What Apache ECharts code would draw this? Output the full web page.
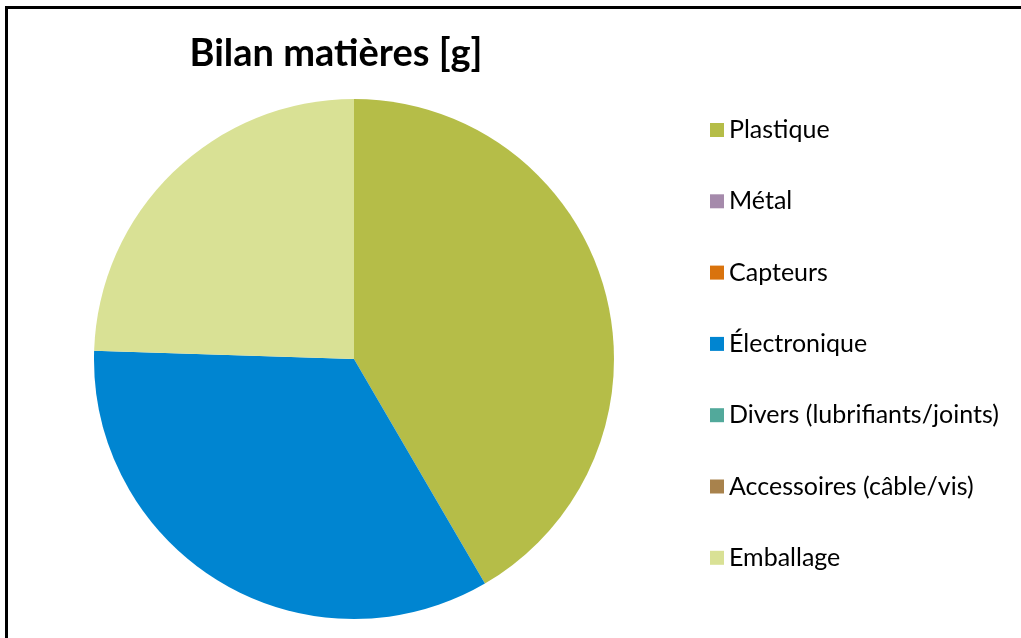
<!DOCTYPE html>
<html>
<head>
<meta charset="utf-8">
<script src="https://cdn.jsdelivr.net/npm/echarts@6/dist/echarts.min.js"></script>
<style>
html,body{margin:0;padding:0;background:#fff;}
#frame{position:absolute;left:5px;top:6px;width:1016px;height:632px;border-top:3px solid #000;border-left:3px solid #000;box-sizing:border-box;}
#chart{position:absolute;left:0;top:0;width:1021px;height:638px;}
</style>
</head>
<body>
<div id="frame"></div>
<div id="chart"></div>
<script>
const categories = ['Plastique','Métal','Capteurs','Électronique','Divers (lubrifiants/joints)','Accessoires (câble/vis)','Emballage'];
const values = [416, 0, 0, 339, 0, 0, 245];
const colors = ['#B5BD48','#A58AAB','#D9730D','#0085D1','#52A99B','#A8824C','#D9E195'];
const titleText = 'Bilan matières [g]';

const chart = echarts.init(document.getElementById('chart'));
chart.setOption({
  backgroundColor: 'transparent',
  animation: false,
  title: {
    text: titleText,
    left: 331,
    top: 30,
    textAlign: 'center',
    textStyle: {fontFamily: 'Lato', fontWeight: 'bold', fontSize: 38, color: '#000'}
  },
  legend: {
    orient: 'vertical',
    left: 705,
    top: 110,
    itemWidth: 14,
    itemHeight: 14,
    itemGap: 41.3,
    icon: 'rect',
    textStyle: {fontFamily: 'Lato', fontSize: 25, color: '#000', lineHeight: 30},
    data: categories
  },
  series: [{
    type: 'pie',
    center: [354, 359],
    radius: [0, 260],
    startAngle: 90,
    clockwise: true,
    label: {show: false},
    labelLine: {show: false},
    itemStyle: {borderWidth: 0},
    data: categories.map((c, i) => ({name: c, value: values[i], itemStyle: {color: colors[i]}}))
  }]
});
</script>
</body>
</html>
